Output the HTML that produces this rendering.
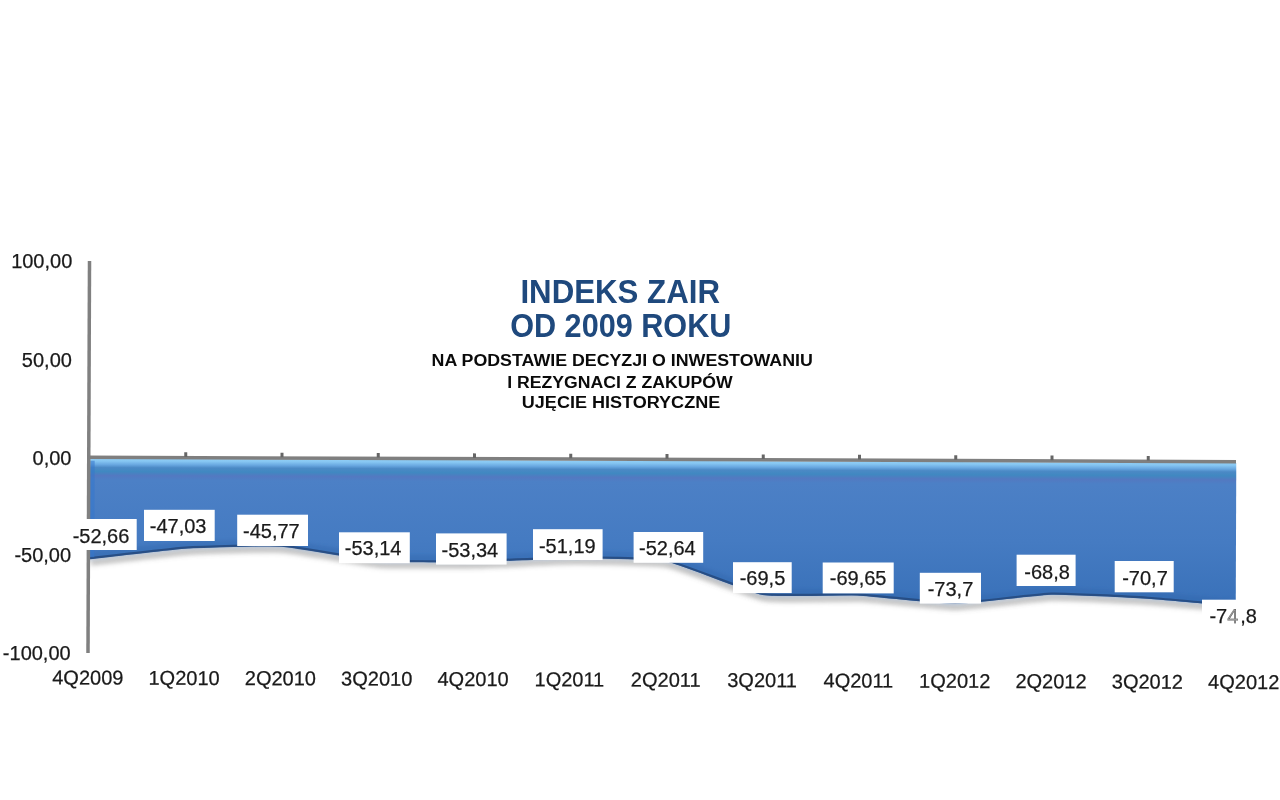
<!DOCTYPE html>
<html lang="pl">
<head>
<meta charset="utf-8">
<title>INDEKS ZAIR OD 2009 ROKU</title>
<style>
html,body{margin:0;padding:0;background:#fff;}
body{width:1280px;height:800px;overflow:hidden;}
svg{display:block;}
text{font-family:"Liberation Sans",Arial,Helvetica,sans-serif;}
.ax{font-size:20px;fill:#1a1a1a;stroke:#1a1a1a;stroke-width:0.25px;}
.dl{font-size:20px;fill:#1a1a1a;stroke:#1a1a1a;stroke-width:0.25px;}
.t1{font-size:33px;font-weight:bold;fill:#1f497d;}
.t2{font-size:16px;font-weight:bold;fill:#0a0a0a;}
</style>
</head>
<body>
<svg width="1280" height="800" viewBox="0 0 1280 800">
<defs>
<linearGradient id="ga" gradientUnits="userSpaceOnUse" x1="0" y1="458" x2="0" y2="606">
<stop offset="0.0000" stop-color="#93d0f6"/>
<stop offset="0.0203" stop-color="#86c6f2"/>
<stop offset="0.0439" stop-color="#69a8e1"/>
<stop offset="0.0642" stop-color="#4b89c5"/>
<stop offset="0.0912" stop-color="#4088c1"/>
<stop offset="0.1182" stop-color="#5379c1"/>
<stop offset="0.1486" stop-color="#4c80c6"/>
<stop offset="0.5405" stop-color="#457bc2"/>
<stop offset="1.0000" stop-color="#3870b8"/>
</linearGradient>
<filter id="sh" x="-5%" y="-50%" width="110%" height="200%"><feGaussianBlur stdDeviation="2.6"/></filter>
<filter id="bv" x="-5%" y="-50%" width="110%" height="200%"><feGaussianBlur stdDeviation="1.6"/></filter>
<clipPath id="below"><rect x="60" y="440" width="1176.3" height="260"/></clipPath>
</defs>
<rect width="1280" height="800" fill="#fff"/>

<g transform="rotate(0.22 89.5 457.5)">
<g clip-path="url(#below)"><path d="M89.50 559.21 C96.38 558.43 172.00 549.14 185.75 548.18 C199.50 547.21 268.25 544.85 282.00 545.71 C295.75 546.56 364.50 559.09 378.25 560.15 C392.00 561.21 460.75 560.82 474.50 560.55 C488.25 560.27 557.00 556.43 570.75 556.33 C584.50 556.23 653.25 556.61 667.00 559.17 C680.75 561.74 749.50 589.84 763.25 592.22 C777.00 594.60 845.75 591.93 859.50 592.51 C873.25 593.10 942.00 600.57 955.75 600.45 C969.50 600.33 1038.25 591.27 1052.00 590.85 C1065.75 590.43 1134.50 593.73 1148.25 594.57 C1162.00 595.41 1237.62 602.03 1244.50 602.61 " transform="translate(1.5 3.5)" fill="none" stroke="#606060" stroke-opacity="0.5" stroke-width="4.5" filter="url(#sh)"/></g>
<g clip-path="url(#below)">
<path d="M90.20 458.70 L89.50 559.21 C96.38 558.43 172.00 549.14 185.75 548.18 C199.50 547.21 268.25 544.85 282.00 545.71 C295.75 546.56 364.50 559.09 378.25 560.15 C392.00 561.21 460.75 560.82 474.50 560.55 C488.25 560.27 557.00 556.43 570.75 556.33 C584.50 556.23 653.25 556.61 667.00 559.17 C680.75 561.74 749.50 589.84 763.25 592.22 C777.00 594.60 845.75 591.93 859.50 592.51 C873.25 593.10 942.00 600.57 955.75 600.45 C969.50 600.33 1038.25 591.27 1052.00 590.85 C1065.75 590.43 1134.50 593.73 1148.25 594.57 C1162.00 595.41 1237.62 602.03 1244.50 602.61 L1244.50 458.70 Z" fill="url(#ga)"/>
<path d="M89.50 559.21 C96.38 558.43 172.00 549.14 185.75 548.18 C199.50 547.21 268.25 544.85 282.00 545.71 C295.75 546.56 364.50 559.09 378.25 560.15 C392.00 561.21 460.75 560.82 474.50 560.55 C488.25 560.27 557.00 556.43 570.75 556.33 C584.50 556.23 653.25 556.61 667.00 559.17 C680.75 561.74 749.50 589.84 763.25 592.22 C777.00 594.60 845.75 591.93 859.50 592.51 C873.25 593.10 942.00 600.57 955.75 600.45 C969.50 600.33 1038.25 591.27 1052.00 590.85 C1065.75 590.43 1134.50 593.73 1148.25 594.57 C1162.00 595.41 1237.62 602.03 1244.50 602.61 " fill="none" stroke="#2f5fa8" stroke-opacity="0.32" stroke-width="8" transform="translate(0 -3)" filter="url(#bv)"/>
<path d="M89.50 559.21 C96.38 558.43 172.00 549.14 185.75 548.18 C199.50 547.21 268.25 544.85 282.00 545.71 C295.75 546.56 364.50 559.09 378.25 560.15 C392.00 561.21 460.75 560.82 474.50 560.55 C488.25 560.27 557.00 556.43 570.75 556.33 C584.50 556.23 653.25 556.61 667.00 559.17 C680.75 561.74 749.50 589.84 763.25 592.22 C777.00 594.60 845.75 591.93 859.50 592.51 C873.25 593.10 942.00 600.57 955.75 600.45 C969.50 600.33 1038.25 591.27 1052.00 590.85 C1065.75 590.43 1134.50 593.73 1148.25 594.57 C1162.00 595.41 1237.62 602.03 1244.50 602.61 " fill="none" stroke="#264a80" stroke-opacity="0.9" stroke-width="2.2" transform="translate(0 -0.9)"/>
<rect x="90.20" y="460.70" width="4.5" height="96.51" fill="#3577cc" opacity="0.55"/>
</g>
<rect x="87.0" y="261" width="3.5" height="392" fill="#808080"/>
<rect x="87.0" y="455.50" width="1149.00" height="3.5" fill="#7f7f7f"/>
<rect x="184.25" y="451.90" width="3" height="4.6" fill="#666"/>
<rect x="280.50" y="451.90" width="3" height="4.6" fill="#666"/>
<rect x="376.75" y="451.90" width="3" height="4.6" fill="#666"/>
<rect x="473.00" y="451.90" width="3" height="4.6" fill="#666"/>
<rect x="569.25" y="451.90" width="3" height="4.6" fill="#666"/>
<rect x="665.50" y="451.90" width="3" height="4.6" fill="#666"/>
<rect x="761.75" y="451.90" width="3" height="4.6" fill="#666"/>
<rect x="858.00" y="451.90" width="3" height="4.6" fill="#666"/>
<rect x="954.25" y="451.90" width="3" height="4.6" fill="#666"/>
<rect x="1050.50" y="451.90" width="3" height="4.6" fill="#666"/>
<rect x="1146.75" y="451.90" width="3" height="4.6" fill="#666"/>
</g>
<g><rect x="66.0" y="519.0" width="70.7" height="31.0" fill="#fff"/>
<text class="dl" x="101.0" y="542.6" text-anchor="middle">-52,66</text></g>
<g><rect x="144.0" y="509.8" width="70.7" height="31.2" fill="#fff"/>
<text class="dl" x="178.1" y="532.9" text-anchor="middle">-47,03</text></g>
<g><rect x="237.2" y="514.7" width="70.8" height="31.3" fill="#fff"/>
<text class="dl" x="271.4" y="537.9" text-anchor="middle">-45,77</text></g>
<g><rect x="339.0" y="532.3" width="70.8" height="30.9" fill="#fff"/>
<text class="dl" x="373.1" y="555.0" text-anchor="middle">-53,14</text></g>
<g><rect x="436.0" y="533.4" width="70.6" height="31.2" fill="#fff"/>
<text class="dl" x="469.9" y="557.1" text-anchor="middle">-53,34</text></g>
<g><rect x="533.0" y="529.2" width="69.6" height="30.8" fill="#fff"/>
<text class="dl" x="567.3" y="552.8" text-anchor="middle">-51,19</text></g>
<g><rect x="633.6" y="532.0" width="69.6" height="30.8" fill="#fff"/>
<text class="dl" x="667.4" y="555.0" text-anchor="middle">-52,64</text></g>
<g><rect x="733.0" y="562.2" width="58.7" height="30.9" fill="#fff"/>
<text class="dl" x="762.5" y="585.0" text-anchor="middle">-69,5</text></g>
<g><rect x="822.7" y="562.5" width="71.0" height="30.9" fill="#fff"/>
<text class="dl" x="858.1" y="585.1" text-anchor="middle">-69,65</text></g>
<g><rect x="919.8" y="572.8" width="61.2" height="30.8" fill="#fff"/>
<text class="dl" x="950.5" y="596.4" text-anchor="middle">-73,7</text></g>
<g><rect x="1016.6" y="554.7" width="59.0" height="31.3" fill="#fff"/>
<text class="dl" x="1047.1" y="578.5" text-anchor="middle">-68,8</text></g>
<g><rect x="1114.7" y="561.0" width="59.0" height="31.3" fill="#fff"/>
<text class="dl" x="1145.0" y="585.0" text-anchor="middle">-70,7</text></g>
<g><rect x="1202.0" y="599.7" width="58.7" height="31.0" fill="#fff"/>
<text class="dl" x="1233.2" y="622.8" text-anchor="middle">-7<tspan fill="#9a9a9a">4</tspan><tspan dx="2">,8</tspan></text></g>
<text class="ax" x="72.3" y="268.4" text-anchor="end">100,00</text>
<text class="ax" x="71.9" y="366.6" text-anchor="end">50,00</text>
<text class="ax" x="71.5" y="465.1" text-anchor="end">0,00</text>
<text class="ax" x="71.1" y="561.8" text-anchor="end">-50,00</text>
<text class="ax" x="70.7" y="660.0" text-anchor="end">-100,00</text>
<text class="ax" x="87.8" y="684.5" text-anchor="middle" transform="rotate(0.22 87.8 684.5)">4Q2009</text>
<text class="ax" x="184.1" y="684.9" text-anchor="middle" transform="rotate(0.22 184.1 684.9)">1Q2010</text>
<text class="ax" x="280.4" y="685.2" text-anchor="middle" transform="rotate(0.22 280.4 685.2)">2Q2010</text>
<text class="ax" x="376.7" y="685.6" text-anchor="middle" transform="rotate(0.22 376.7 685.6)">3Q2010</text>
<text class="ax" x="473.1" y="686.0" text-anchor="middle" transform="rotate(0.22 473.1 686.0)">4Q2010</text>
<text class="ax" x="569.4" y="686.3" text-anchor="middle" transform="rotate(0.22 569.4 686.3)">1Q2011</text>
<text class="ax" x="665.7" y="686.7" text-anchor="middle" transform="rotate(0.22 665.7 686.7)">2Q2011</text>
<text class="ax" x="762.1" y="687.1" text-anchor="middle" transform="rotate(0.22 762.1 687.1)">3Q2011</text>
<text class="ax" x="858.4" y="687.5" text-anchor="middle" transform="rotate(0.22 858.4 687.5)">4Q2011</text>
<text class="ax" x="954.7" y="687.8" text-anchor="middle" transform="rotate(0.22 954.7 687.8)">1Q2012</text>
<text class="ax" x="1051.0" y="688.2" text-anchor="middle" transform="rotate(0.22 1051.0 688.2)">2Q2012</text>
<text class="ax" x="1147.4" y="688.6" text-anchor="middle" transform="rotate(0.22 1147.4 688.6)">3Q2012</text>
<text class="ax" x="1243.7" y="688.9" text-anchor="middle" transform="rotate(0.22 1243.7 688.9)">4Q2012</text>
<text class="t1" x="520.4" y="302.6" textLength="199.6" lengthAdjust="spacingAndGlyphs">INDEKS ZAIR</text>
<text class="t1" x="510.2" y="337.2" textLength="221.2" lengthAdjust="spacingAndGlyphs">OD 2009 ROKU</text>
<text class="t2" x="431.6" y="365.8" textLength="381.2" lengthAdjust="spacingAndGlyphs">NA PODSTAWIE DECYZJI O INWESTOWANIU</text>
<text class="t2" x="507.3" y="387.5" textLength="225.3" lengthAdjust="spacingAndGlyphs">I REZYGNACI Z ZAKUPÓW</text>
<text class="t2" x="521.8" y="408.3" textLength="198.4" lengthAdjust="spacingAndGlyphs">UJĘCIE HISTORYCZNE</text>
</svg>
</body>
</html>
